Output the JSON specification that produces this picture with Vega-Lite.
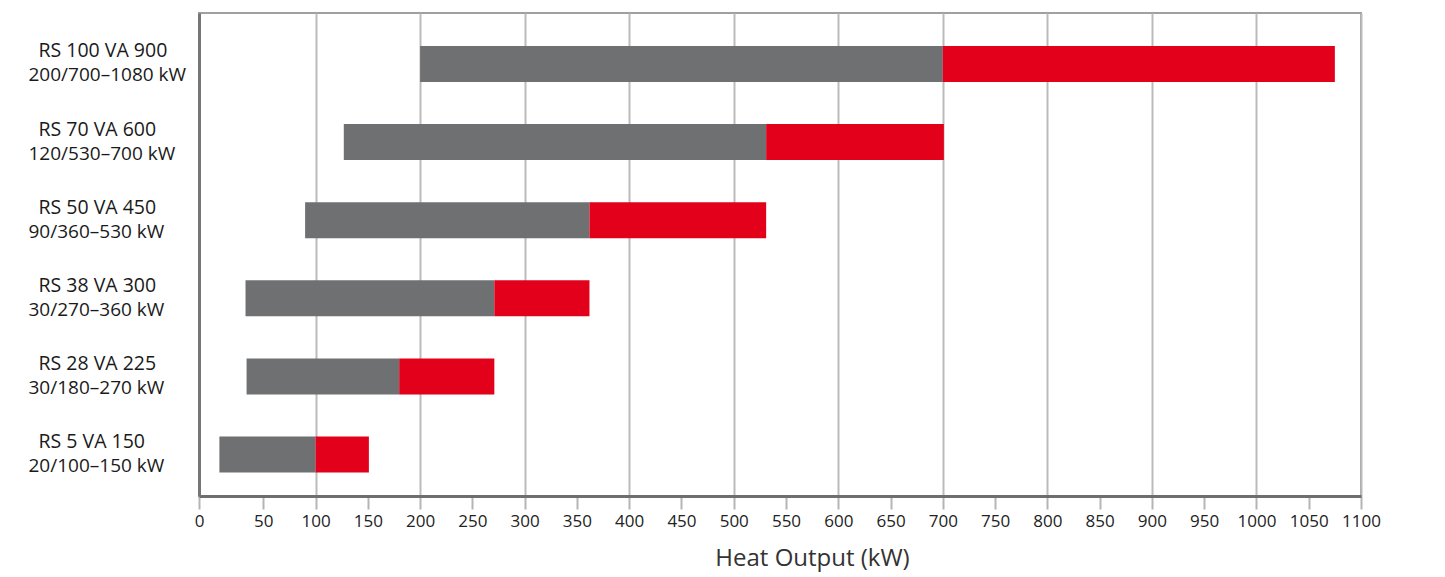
{
  "$schema": "https://vega.github.io/schema/vega-lite/v6.json",
  "autosize": {"type": "none"},
  "padding": {"left": 199, "top": 13, "right": 84, "bottom": 81},
  "width": 1162,
  "height": 483,
  "background": "white",
  "config": {
    "font": "Open Sans",
    "view": {"stroke": "#a0a0a0", "strokeWidth": 2}
  },
  "data": {
    "values": [
      {"model": "RS 100 VA 900|200/700–1080 kW", "min": 200, "mid": 700, "max": 1075},
      {"model": "RS 70 VA 600|120/530–700 kW", "min": 127, "mid": 531, "max": 701},
      {"model": "RS 50 VA 450|90/360–530 kW", "min": 90, "mid": 362, "max": 531},
      {"model": "RS 38 VA 300|30/270–360 kW", "min": 33, "mid": 271, "max": 362},
      {"model": "RS 28 VA 225|30/180–270 kW", "min": 34, "mid": 180, "max": 271},
      {"model": "RS 5 VA 150|20/100–150 kW", "min": 8, "mid": 100, "max": 151}
    ]
  },
  "resolve": {"axis": {"y": "independent"}},
  "layer": [
    {
      "mark": {"type": "bar", "color": "#6f7072"},
      "encoding": {
        "y": {
          "field": "model",
          "type": "nominal",
          "sort": null,
          "scale": {"paddingInner": 0.539, "paddingOuter": 0.3616, "align": 0.584, "round": false},
          "axis": {
            "orient": "left",
            "title": null,
            "ticks": false,
            "tickSize": 0,
            "domain": true,
            "domainColor": "#767676",
            "domainWidth": 3,
            "labelAlign": "left",
            "labelBaseline": "middle",
            "labelPadding": 161,
            "labelOffset": -12.5,
            "labelLimit": 400,
            "labelFontSize": 19.5,
            "labelColor": "#1a1a1a",
            "labelExpr": "split(datum.value, '|')[0]"
          }
        },
        "x": {
          "field": "min",
          "type": "quantitative",
          "scale": {"domain": [-11.5, 1100], "nice": false, "zero": false},
          "axis": {
            "title": "Heat Output (kW)",
            "format": "d",
            "values": [-11.5, 50, 100, 150, 200, 250, 300, 350, 400, 450, 500, 550, 600, 650, 700, 750, 800, 850, 900, 950, 1000, 1050, 1100],
            "labelExpr": "datum.value < 0 ? '0' : datum.label",
            "labelFlush": false,
            "labelOverlap": false,
            "labelFontSize": 17,
            "labelColor": "#222222",
            "labelPadding": 4,
            "domainColor": "#6e6e6e",
            "domainWidth": 3,
            "tickColor": "#b5b5b5",
            "tickWidth": 2,
            "tickSize": 13,
            "grid": true,
            "gridColor": "#bbbbbb",
            "gridWidth": 2,
            "gridOpacity": {"condition": {"test": "datum.value > 0 && datum.value % 100 === 0", "value": 1}, "value": 0},
            "titleFontSize": 24,
            "titleFontWeight": "normal",
            "titleColor": "#333333",
            "titleX": 613,
            "titleY": 69,
            "titleAlign": "center",
            "titleBaseline": "alphabetic"
          }
        },
        "x2": {"field": "mid"}
      }
    },
    {
      "mark": {"type": "bar", "color": "#e2001a"},
      "encoding": {
        "y": {
          "field": "model",
          "type": "nominal",
          "sort": null,
          "axis": {
            "orient": "left",
            "title": null,
            "ticks": false,
            "tickSize": 0,
            "domain": false,
            "labelAlign": "left",
            "labelBaseline": "middle",
            "labelPadding": 171,
            "labelOffset": 11.5,
            "labelLimit": 400,
            "labelFontSize": 19,
            "labelColor": "#1a1a1a",
            "labelExpr": "split(datum.value, '|')[1]"
          }
        },
        "x": {"field": "mid", "type": "quantitative"},
        "x2": {"field": "max"}
      }
    }
  ]
}
